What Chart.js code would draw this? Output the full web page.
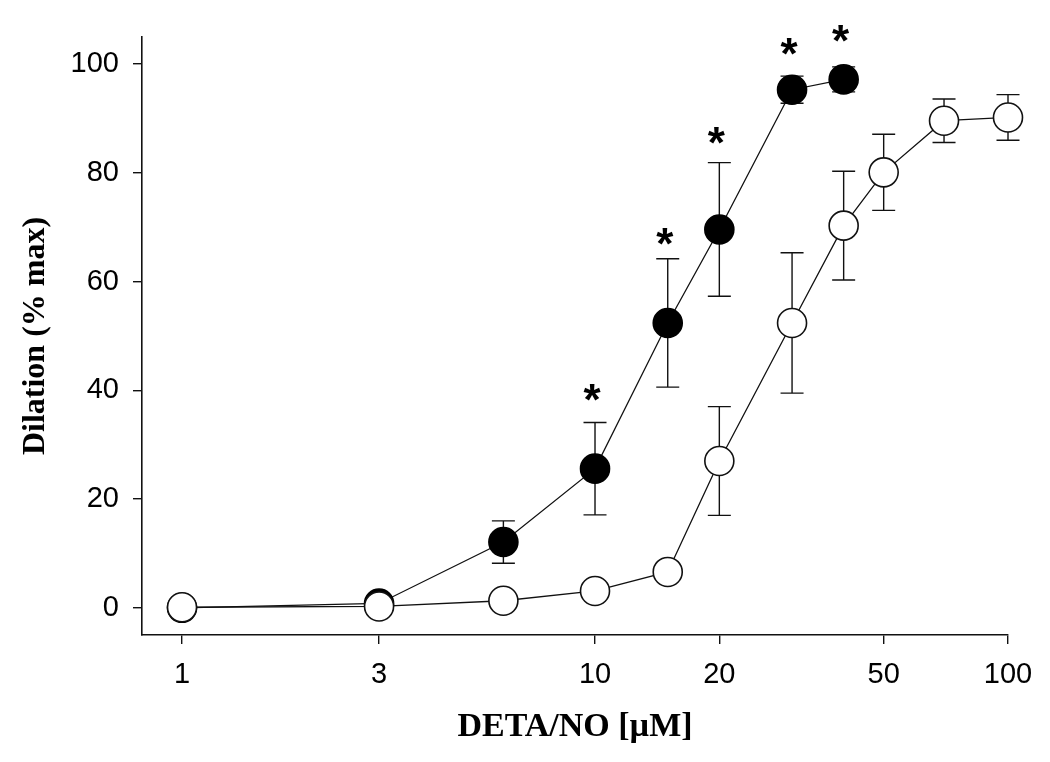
<!DOCTYPE html>
<html>
<head>
<meta charset="utf-8">
<script src="https://cdn.jsdelivr.net/npm/chart.js@4.4.1/dist/chart.umd.min.js"></script>
<style>
  html, body { margin: 0; padding: 0; background: #fff; }
  canvas { display: block; }
</style>
</head>
<body>
<canvas id="c" width="1050" height="762"></canvas>
<script>
// ---- data ----
const filledDose   = [1, 3, 6, 10, 15, 20, 30, 40];
const filledMean   = [0, 0.8, 12.1, 25.6, 52.4, 69.6, 95.3, 97.2];
const filledErr    = [0, 0, 3.9, 8.5, 11.8, 12.3, 2.5, 2.3];

const openDose     = [1, 3, 6, 10, 15, 20, 30, 40, 50, 70, 100];
const openMean     = [0.1, 0.25, 1.3, 3.1, 6.6, 27.0, 52.4, 70.3, 80.1, 89.6, 90.2];
const openErr      = [0, 0, 0, 0, 0, 10.0, 12.9, 10.0, 7.0, 4.0, 4.2];

const starDose     = [10, 15, 20, 30, 40];
const starLevel    = [39.5, 68.2, 86.8, 103.2, 105.6];

const xTicks = [1, 3, 10, 20, 50, 100];
const yTicks = [0, 20, 40, 60, 80, 100];

const xTitle = 'DETA/NO [\u00B5M]';
const yTitle = 'Dilation (% max)';

// ---- build chart ----
function pts(xs, ys) { return xs.map((x, i) => ({ x: x, y: ys[i] })); }

const ink = '#111';

const errorBarPlugin = {
  id: 'errorBars',
  beforeDatasetsDraw(chart) {
    const ctx = chart.ctx;
    const xs = chart.scales.x, ys = chart.scales.y;
    ctx.save();
    ctx.strokeStyle = ink;
    ctx.lineWidth = 1.4;
    chart.data.datasets.forEach(ds => {
      const errs = ds.errors || [];
      ds.data.forEach((p, i) => {
        const e = errs[i];
        if (!e) return;
        const px = xs.getPixelForValue(p.x);
        const yHi = ys.getPixelForValue(p.y + e);
        const yLo = ys.getPixelForValue(p.y - e);
        const cap = 11.5;
        ctx.beginPath();
        ctx.moveTo(px, yHi); ctx.lineTo(px, yLo);
        ctx.moveTo(px - cap, yHi); ctx.lineTo(px + cap, yHi);
        ctx.moveTo(px - cap, yLo); ctx.lineTo(px + cap, yLo);
        ctx.stroke();
      });
    });
    ctx.restore();
  }
};

const starPlugin = {
  id: 'stars',
  afterDatasetsDraw(chart) {
    const ctx = chart.ctx;
    const xs = chart.scales.x, ys = chart.scales.y;
    ctx.save();
    ctx.fillStyle = '#000';
    ctx.font = 'bold 44px "Liberation Sans", Arial, sans-serif';
    ctx.textAlign = 'center';
    ctx.textBaseline = 'middle';
    starDose.forEach((d, i) => {
      const px = xs.getPixelForValue(d);
      const py = ys.getPixelForValue(starLevel[i]);
      ctx.fillText('*', px - 3, py + 10);
    });
    ctx.restore();
  }
};

const tickFont = { family: '"Liberation Sans", Arial, sans-serif', size: 29 };
const xTitleFont = { family: '"Liberation Serif", "Times New Roman", serif', size: 34, weight: 'bold' };
const yTitleFont = { family: '"Liberation Serif", "Times New Roman", serif', size: 32, weight: 'bold' };

new Chart(document.getElementById('c'), {
  type: 'line',
  data: {
    datasets: [
      {
        label: 'open',
        data: pts(openDose, openMean),
        errors: openErr,
        borderColor: ink,
        borderWidth: 1.3,
        pointRadius: 14.5,
        pointHoverRadius: 14.5,
        pointBackgroundColor: '#fff',
        pointBorderColor: ink,
        pointBorderWidth: 1.6,
        fill: false,
        tension: 0,
        clip: false
      },
      {
        label: 'filled',
        data: pts(filledDose, filledMean),
        errors: filledErr,
        borderColor: ink,
        borderWidth: 1.3,
        pointRadius: 14.5,
        pointHoverRadius: 14.5,
        pointBackgroundColor: '#000',
        pointBorderColor: '#000',
        pointBorderWidth: 1.6,
        fill: false,
        tension: 0,
        clip: false
      }
    ]
  },
  options: {
    responsive: false,
    animation: false,
    events: [],
    layout: { padding: { top: 37, right: 42, left: 0, bottom: 0 } },
    plugins: {
      legend: { display: false },
      tooltip: { enabled: false }
    },
    scales: {
      x: {
        type: 'logarithmic',
        min: 0.8,
        max: 100,
        afterBuildTicks(scale) { scale.ticks = xTicks.map(v => ({ value: v })); },
        afterFit(scale) { scale.height = 127; },
        ticks: {
          autoSkip: false,
          maxRotation: 0,
          color: '#000',
          font: tickFont,
          padding: 14,
          callback: (v) => String(v)
        },
        grid: { drawOnChartArea: false, drawTicks: true, tickLength: 9, color: ink, lineWidth: 1.4 },
        border: { display: true, color: ink, width: 1.6 },
        title: { display: true, text: xTitle, color: '#000', font: xTitleFont, padding: { top: 0, bottom: 14 } }
      },
      y: {
        type: 'linear',
        min: -5,
        max: 105,
        afterBuildTicks(scale) { scale.ticks = yTicks.map(v => ({ value: v })); },
        afterFit(scale) { scale.width = 142; },
        ticks: {
          color: '#000',
          font: tickFont,
          padding: 14,
          callback: (v) => String(v)
        },
        grid: { drawOnChartArea: false, drawTicks: true, tickLength: 9, color: ink, lineWidth: 1.4 },
        border: { display: true, color: ink, width: 1.6 },
        title: { display: true, text: yTitle, color: '#000', font: yTitleFont, padding: { top: 17, bottom: 0 } }
      }
    }
  },
  plugins: [errorBarPlugin, starPlugin]
});
</script>
</body>
</html>
